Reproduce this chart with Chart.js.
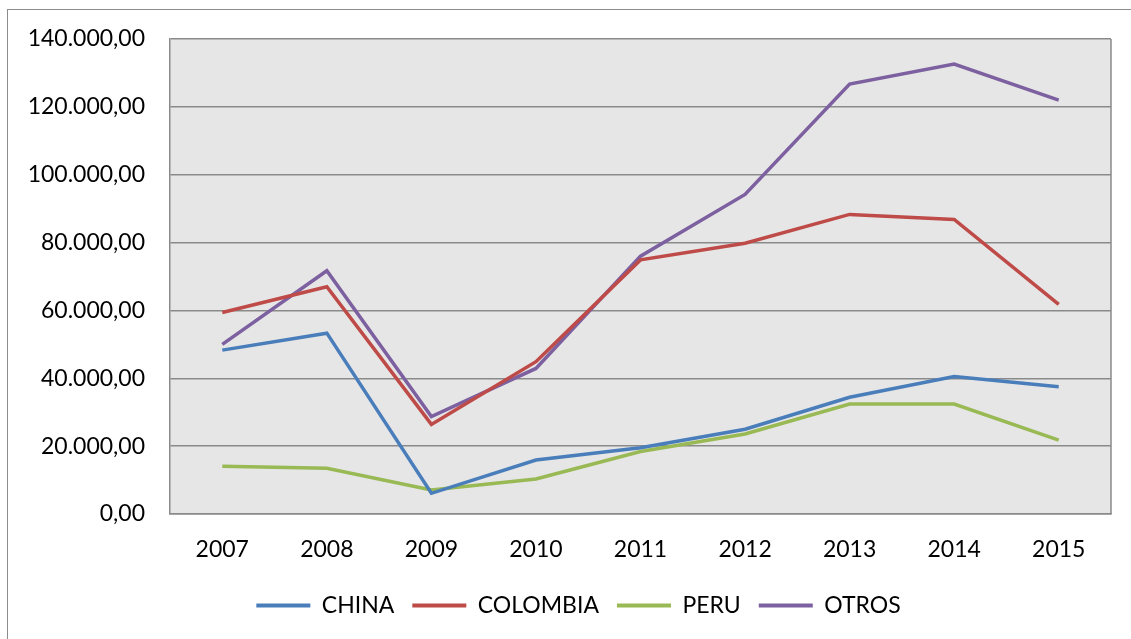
<!DOCTYPE html>
<html>
<head>
<meta charset="utf-8">
<script src="https://cdn.jsdelivr.net/npm/chart.js@4"></script>
<style>
  html, body { margin: 0; padding: 0; background: #fff; overflow: hidden; }
  #frame { position: absolute; left: 7px; top: 9px; width: 1300px; height: 800px; border: 1.5px solid #8c8c8c; }
  #wrap { position: absolute; left: 0; top: 0; width: 1131px; height: 639px; }
</style>
</head>
<body>
<div id="frame"></div>
<div id="wrap"><canvas id="myChart"></canvas></div>
<script>
// datos
const years = ['2007', '2008', '2009', '2010', '2011', '2012', '2013', '2014', '2015'];
const china = [48300, 53300, 6100, 15900, 19500, 25000, 34400, 40500, 37500];
const colombia = [59400, 67000, 26400, 44900, 74900, 79800, 88300, 86800, 61800];
const peru = [14100, 13500, 7100, 10300, 18400, 23600, 32400, 32400, 21800];
const otros = [50000, 71700, 28700, 42900, 76000, 94200, 126700, 132600, 122000];
const yTickLabels = ['0,00', '20.000,00', '40.000,00', '60.000,00', '80.000,00', '100.000,00', '120.000,00', '140.000,00'];

const fontFamily = 'Lato';

// fondo gris del area de trazado, borde derecho y leyenda algo a la derecha
const plotBg = {
    id: 'plotBg',
    afterLayout(chart) {
        if (chart.legend) {
            chart.legend.left += 23;
            chart.legend.right += 23;
        }
    },
    beforeDraw(chart) {
        const { ctx, chartArea: a } = chart;
        ctx.save();
        ctx.fillStyle = '#e6e6e6';
        ctx.fillRect(a.left, a.top, a.right - a.left, a.bottom - a.top);
        ctx.restore();
    },
    afterDatasetsDraw(chart) {
        const { ctx, chartArea: a } = chart;
        ctx.save();
        ctx.strokeStyle = '#8a8a8a';
        ctx.lineWidth = 1.5;
        ctx.beginPath();
        ctx.moveTo(a.right, a.top);
        ctx.lineTo(a.right, a.bottom);
        ctx.stroke();
        ctx.restore();
    }
};

function line(label, data, color) {
    return {
        label: label,
        data: data,
        borderColor: color,
        backgroundColor: color,
        borderWidth: 3.5,
        pointRadius: 0,
        tension: 0,
        fill: false
    };
}

const ctx = document.getElementById('myChart').getContext('2d');
new Chart(ctx, {
    type: 'line',
    data: {
        labels: years,
        datasets: [
            line('CHINA', china, '#4a7ebb'),
            line('COLOMBIA', colombia, '#be4b48'),
            line('PERU', peru, '#98b954'),
            line('OTROS', otros, '#7d60a0')
        ]
    },
    options: {
        responsive: true,
        maintainAspectRatio: false,
        animation: false,
        layout: { padding: { left: 0, top: 39, right: 20, bottom: 12 } },
        plugins: {
            tooltip: { enabled: false },
            legend: {
                position: 'bottom',
                labels: {
                    color: '#000',
                    font: { family: fontFamily, size: 23 },
                    boxWidth: 54,
                    boxHeight: 4,
                    padding: 18,
                    generateLabels(chart) {
                        return chart.data.datasets.map((ds, i) => ({
                            text: ds.label,
                            fillStyle: ds.borderColor,
                            strokeStyle: ds.borderColor,
                            lineWidth: 0,
                            datasetIndex: i
                        }));
                    }
                }
            }
        },
        scales: {
            x: {
                offset: true,
                grid: { display: false, drawTicks: false },
                border: { display: true, color: '#8a8a8a', width: 1.5 },
                ticks: { color: '#000', font: { family: fontFamily, size: 23 }, padding: 22, maxRotation: 0 },
                afterFit(scale) { scale.height = 62; }
            },
            y: {
                min: 0,
                max: 140000,
                grid: { color: '#8a8a8a', lineWidth: 1.5, drawTicks: false },
                border: { display: true, color: '#8a8a8a', width: 1.5 },
                ticks: {
                    stepSize: 20000,
                    color: '#000',
                    font: { family: fontFamily, size: 23 },
                    padding: 25,
                    callback: (v) => yTickLabels[v / 20000]
                },
                afterFit(scale) { scale.width = 170; }
            }
        }
    },
    plugins: [plotBg]
});
</script>
</body>
</html>
